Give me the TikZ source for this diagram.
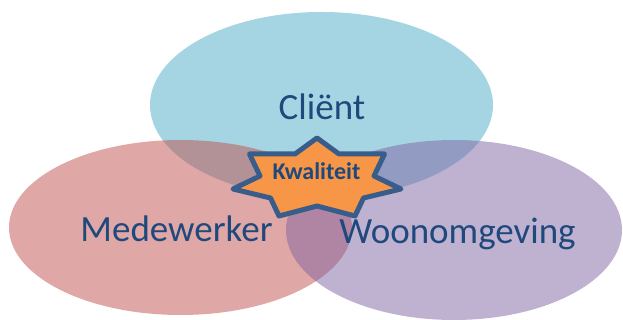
\documentclass[tikz,border=0pt]{standalone}
\usepackage{fontspec}
\setmainfont{Carlito}
\definecolor{ClientFill}{RGB}{75,172,198}
\definecolor{StaffFill}{RGB}{192,80,77}
\definecolor{HomeFill}{RGB}{128,100,162}
\definecolor{LabelBlue}{RGB}{31,73,125}
\definecolor{StarFill}{RGB}{247,150,70}
\definecolor{StarEdge}{RGB}{56,93,138}

\begin{document}
\begin{tikzpicture}[x=1pt, y=1pt,
    circle label/.style={text=LabelBlue, font=\fontsize{37}{40}\selectfont, anchor=base, inner sep=0pt},
    star label/.style={text=LabelBlue, font=\fontsize{24}{26}\selectfont\bfseries, anchor=base, inner sep=0pt}]
\useasboundingbox (0,0) rectangle (623,320);

\coordinate (C) at (321.5, 215);
\coordinate (M) at (180.5, 92.5);
\coordinate (W) at (454, 90);
\coordinate (K) at (317, 142);

% three half transparent ellipses
\fill[ClientFill, fill opacity=0.5] (C) ellipse [x radius=171.5pt, y radius=93pt];
\fill[StaffFill, fill opacity=0.5] (M) ellipse [x radius=171.5pt, y radius=87.5pt];
\fill[HomeFill, fill opacity=0.5] (W) ellipse [x radius=168pt, y radius=90pt];

\node[circle label] (client) at (322, 200.5) {Cliënt};
\node[circle label] (staff) at (176.5, 78.3) {Medewerker};
\node[circle label] (home) at (457.5, 76.5) {Woonomgeving};

% seven point star in the middle
\draw[fill=StarFill, draw=StarEdge, line width=5pt, line join=round, shift={(K)}]
    (0, 40) -- (22, 24) -- (67.5, 24) -- (57, 2) -- (84, -11) -- (46.5, -20)
    -- (38, -38) -- (0, -28) -- (-38, -38) -- (-46.5, -20) -- (-84, -11)
    -- (-57, 2) -- (-67.5, 24) -- (-22, 24) -- cycle;

\node[star label] (quality) at (316.5, 140.7) {Kwaliteit};

\end{tikzpicture}
\end{document}
